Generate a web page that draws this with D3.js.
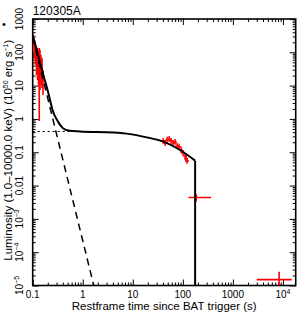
<!DOCTYPE html>
<html>
<head>
<meta charset="utf-8">
<script src="https://cdn.jsdelivr.net/npm/d3@7/dist/d3.min.js"></script>
<style>
  body { margin: 0; background: #fff; }
  svg { display: block; font-family: "Liberation Sans", Arial, sans-serif; }
  .axis path, .axis line { stroke: #000; stroke-width: 1; }
</style>
</head>
<body>
<script>
// burst name
const title = "120305A";

// BAT early data (restframe s, 1e50 erg/s)
const batT  = [0.104, 0.109, 0.1137, 0.119, 0.1247, 0.1306, 0.135, 0.140, 0.1466, 0.1535, 0.1607];
const batL  = [234, 145, 117, 83, 59, 67, 42, 51, 29.5, 25.7, 14.8];
const batLo = [117, 67, 42, 21, 14.8, 10.5, 0.87, 7.4, 10.5, 8.5, 5.2];
const batHi = [331, 234, 166, 145, 135, 117, 135, 117, 83, 67, 29.5];

// XRT data
const xrtT  = [40.4, 44.3, 48.5, 53.2, 58.3, 64, 70.2, 76.9, 84.3, 92.5, 101, 111, 116, 122];
const xrtL  = [0.219, 0.19, 0.234, 0.25, 0.219, 0.19, 0.204, 0.155, 0.145, 0.117, 0.095, 0.077, 0.063, 0.055];
const xrtLo = [0.18, 0.155, 0.19, 0.205, 0.18, 0.155, 0.167, 0.127, 0.118, 0.095, 0.077, 0.063, 0.051, 0.045];
const xrtHi = [0.27, 0.235, 0.29, 0.31, 0.27, 0.235, 0.25, 0.19, 0.18, 0.145, 0.117, 0.095, 0.078, 0.068];

// late points with wide time bins
const lateT   = [185, 8400];
const lateTlo = [130, 3000];
const lateThi = [368, 15000];
const lateL   = [0.0044, 1.5e-5];
const lateLlo = [0.0033, 1e-5];
const lateLhi = [0.0055, 2.6e-5];

// fitted model (solid), steep component (dashed), plateau (dotted)
const modelT = [0.1, 0.15, 0.2, 0.255, 0.32, 0.4, 0.51, 0.88, 4.1, 8.8, 19, 41, 88, 176];
const modelL = [330, 33, 7, 1.66, 0.83, 0.53, 0.45, 0.42, 0.39, 0.35, 0.28, 0.208, 0.117, 0.056];
const dropT = [176, 176];
const dropL = [0.056, 1e-5];
const steepT = [0.1, 1.66];
const steepL = [286, 1e-5];
const plateauT = [0.1, 0.6];
const plateauL = [0.42, 0.42];

// tick labels
const xTicks = [0.1, 1, 10, 100, 1000, 10000];
const xLabels = [["0.1"], ["1"], ["10"], ["100"], ["1000"], ["10", "4"]];
const yTicks = [1e-5, 1e-4, 1e-3, 0.01, 0.1, 1, 10, 100, 1000];
const yLabels = [["10", "\u22125"], ["10", "\u22124"], ["10", "\u22123"], ["0.01"], ["0.1"], ["1"], ["10"], ["100"], ["1000"]];

const w = 300, h = 315;
const mL = 32.7, mR = 295.7, mT = 19, mB = 285.5;

const x = d3.scaleLog().domain([0.1, 18000]).range([mL, mR]);
const y = d3.scaleLog().domain([1e-5, 1000]).range([mB, mT]);

const svg = d3.select("body").append("svg").attr("width", w).attr("height", h);

svg.append("clipPath").attr("id", "clip")
  .append("rect").attr("x", mL).attr("y", mT).attr("width", mR - mL).attr("height", mB - mT);

const isMajor = (d) => Math.abs(Math.log10(d) - Math.round(Math.log10(d))) < 1e-6;
const xMinor = x.ticks().filter((d) => !isMajor(d));
const yMinor = y.ticks().filter((d) => !isMajor(d));

// ticks, all pointing inward
function ticks(axisFn, scale, vals, len, tr) {
  svg.append("g").attr("class", "axis").attr("transform", tr)
    .call(axisFn(scale).tickValues(vals).tickSize(-len).tickSizeOuter(0).tickFormat(""))
    .select(".domain").remove();
}
ticks(d3.axisBottom, x, xTicks, 6, `translate(0,${mB})`);
ticks(d3.axisBottom, x, xMinor, 3, `translate(0,${mB})`);
ticks(d3.axisTop, x, xTicks, 6, `translate(0,${mT})`);
ticks(d3.axisTop, x, xMinor, 3, `translate(0,${mT})`);
ticks(d3.axisLeft, y, yTicks, 6, `translate(${mL},0)`);
ticks(d3.axisLeft, y, yMinor, 3, `translate(${mL},0)`);
ticks(d3.axisRight, y, yTicks, 6, `translate(${mR},0)`);
ticks(d3.axisRight, y, yMinor, 3, `translate(${mR},0)`);

svg.append("rect")
  .attr("x", mL).attr("y", mT).attr("width", mR - mL).attr("height", mB - mT)
  .attr("fill", "none").attr("stroke", "#000").attr("stroke-width", 1.6);

// x tick labels
const xl = svg.append("g").selectAll("text").data(xTicks).enter().append("text")
  .attr("x", (d) => x(d)).attr("y", 298).attr("text-anchor", "middle").attr("font-size", 10);
xl.each(function (d, i) {
  const t = d3.select(this);
  t.append("tspan").text(xLabels[i][0]);
  if (xLabels[i][1]) t.append("tspan").attr("dy", -4).attr("font-size", 7).text(xLabels[i][1]);
});

// y tick labels (rotated)
const yl = svg.append("g").selectAll("text").data(yTicks).enter().append("text")
  .attr("transform", (d) => `translate(23,${y(d)}) rotate(-90)`)
  .attr("text-anchor", "middle").attr("font-size", 10);
yl.each(function (d, i) {
  const t = d3.select(this);
  t.append("tspan").text(yLabels[i][0]);
  if (yLabels[i][1]) t.append("tspan").attr("dy", -4).attr("font-size", 7).text(yLabels[i][1]);
});

// axis titles
svg.append("text").attr("x", (mL + mR) / 2).attr("y", 310).attr("text-anchor", "middle")
  .attr("font-size", 11.5).text("Restframe time since BAT trigger (s)");

const yt = svg.append("text").attr("transform", `translate(12,${(mT + mB) / 2 - 2}) rotate(-90)`)
  .attr("text-anchor", "middle").attr("font-size", 11.5);
yt.append("tspan").text("Luminosity (1.0\u201310000.0 keV) (10");
yt.append("tspan").attr("dy", -4).attr("font-size", 7).text("50");
yt.append("tspan").attr("dy", 4).text(" erg s");
yt.append("tspan").attr("dy", -4).attr("font-size", 7).text("\u22121");
yt.append("tspan").attr("dy", 4).text(")");

svg.append("text").attr("x", 2).attr("y", 28).attr("font-size", 11).text("\u2022");

svg.append("text").attr("x", mL).attr("y", 15).attr("font-size", 12).text(title);

const plot = svg.append("g").attr("clip-path", "url(#clip)");

// red data
const red = "#ff0000";
plot.append("g").selectAll("line").data(batT).enter().append("line")
  .attr("x1", (d) => x(d)).attr("x2", (d) => x(d))
  .attr("y1", (d, i) => y(batLo[i])).attr("y2", (d, i) => y(batHi[i]))
  .attr("stroke", red).attr("stroke-width", 1.6);
plot.append("g").selectAll("line").data(batT).enter().append("line")
  .attr("x1", (d) => x(d) - 0.8).attr("x2", (d) => x(d) + 0.8)
  .attr("y1", (d, i) => y(batL[i])).attr("y2", (d, i) => y(batL[i]))
  .attr("stroke", red).attr("stroke-width", 1.6);

plot.append("g").selectAll("line").data(xrtT).enter().append("line")
  .attr("x1", (d) => x(d)).attr("x2", (d) => x(d))
  .attr("y1", (d, i) => y(xrtLo[i])).attr("y2", (d, i) => y(xrtHi[i]))
  .attr("stroke", red).attr("stroke-width", 1.5);
plot.append("g").selectAll("line").data(xrtT).enter().append("line")
  .attr("x1", (d) => x(d) - 1.8).attr("x2", (d) => x(d) + 1.8)
  .attr("y1", (d, i) => y(xrtL[i])).attr("y2", (d, i) => y(xrtL[i]))
  .attr("stroke", red).attr("stroke-width", 1.5);

plot.append("g").selectAll("line").data(lateT).enter().append("line")
  .attr("x1", (d) => x(d)).attr("x2", (d) => x(d))
  .attr("y1", (d, i) => y(lateLlo[i])).attr("y2", (d, i) => y(lateLhi[i]))
  .attr("stroke", red).attr("stroke-width", 1.6);
plot.append("g").selectAll("line").data(lateT).enter().append("line")
  .attr("x1", (d, i) => x(lateTlo[i])).attr("x2", (d, i) => x(lateThi[i]))
  .attr("y1", (d, i) => y(lateL[i])).attr("y2", (d, i) => y(lateL[i]))
  .attr("stroke", red).attr("stroke-width", 1.6);

// model lines
const line = d3.line().x((d) => x(d[0])).y((d) => y(d[1]));
const zip = (a, b) => a.map((d, i) => [d, b[i]]);

plot.append("path").datum(zip(plateauT, plateauL)).attr("d", line)
  .attr("fill", "none").attr("stroke", "#000").attr("stroke-width", 1.2).attr("stroke-dasharray", "2,3");
plot.append("path").datum(zip(steepT, steepL)).attr("d", line)
  .attr("fill", "none").attr("stroke", "#000").attr("stroke-width", 1.5).attr("stroke-dasharray", "7,5");
plot.append("path").datum(zip(modelT, modelL)).attr("d", line.curve(d3.curveMonotoneX))
  .attr("fill", "none").attr("stroke", "#000").attr("stroke-width", 2);
plot.append("path").datum(zip(dropT, dropL)).attr("d", line.curve(d3.curveLinear))
  .attr("fill", "none").attr("stroke", "#000").attr("stroke-width", 2);
</script>
</body>
</html>
